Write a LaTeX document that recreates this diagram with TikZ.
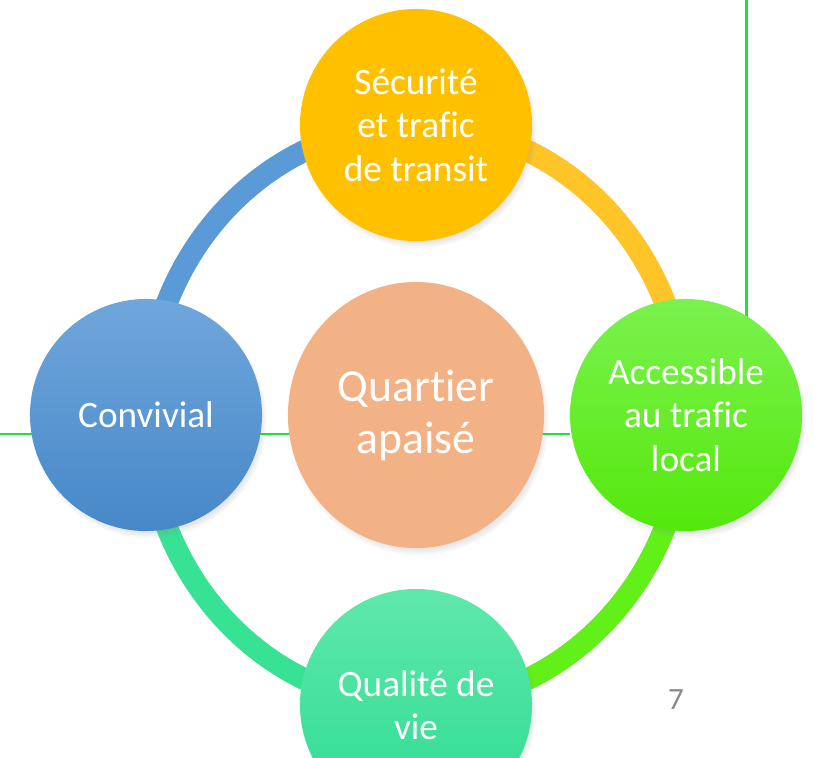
\documentclass[tikz,border=0pt]{standalone}
\usepackage{fontspec}
\setmainfont{Carlito}[Ligatures=CommonOff]
\usepackage{xcolor}
\usetikzlibrary{shadows}
\usetikzlibrary{shapes.geometric}
\usetikzlibrary{backgrounds}
\definecolor{goldc}{RGB}{255,192,0}
\definecolor{bluetop}{RGB}{112,166,220}
\definecolor{bluebot}{RGB}{70,136,200}
\definecolor{greentop}{RGB}{122,242,78}
\definecolor{greenbot}{RGB}{84,232,12}
\definecolor{tealtop}{RGB}{96,232,170}
\definecolor{tealbot}{RGB}{44,220,145}
\definecolor{peach}{RGB}{243,178,134}
\definecolor{guidec}{RGB}{30,226,60}
\definecolor{pagegray}{RGB}{137,137,137}
\definecolor{arcblue}{RGB}{90,155,215}
\definecolor{arcgold}{RGB}{255,196,40}
\definecolor{arcgreen}{RGB}{98,240,25}
\definecolor{arcteal}{RGB}{55,226,148}
\tikzset{
    topic/.style={
        circle, minimum size=5.8cm, inner sep=0pt, align=center,
        text=white, font=\fontsize{26.5}{31}\selectfont,
        circular drop shadow={shadow xshift=0.06cm, shadow yshift=-0.12cm, shadow scale=1.02, opacity=0.5},
    },
    hub/.style={
        ellipse, minimum width=6.4cm, minimum height=6.65cm, inner sep=0pt, align=center,
        fill=peach, text=white, font=\fontsize{32.5}{37}\selectfont,
        circular drop shadow={shadow xshift=0.06cm, shadow yshift=-0.12cm, shadow scale=1.02, opacity=0.5},
    },
    ringarc/.style={line width=15.5pt},
    ringshadow/.style={line width=15.5pt, black, opacity=0.15},
    guide/.style={guidec, line width=1.8pt},
}

\begin{document}
\begin{tikzpicture}[x=0.025cm, y=-0.025cm]
    \useasboundingbox (0,0) rectangle (815,757);

    \node[hub] (quartier) at (416,415) {Quartier\\apaisé};
    \node[topic, fill=goldc] (secu) at (416,125) {Sécurité\\et trafic\\de transit};
    \node[topic, top color=bluetop, bottom color=bluebot] (conv) at (146,415) {Convivial};
    \node[topic, top color=greentop, bottom color=greenbot] (acces) at (686,415) {Accessible\\au trafic\\local};
    \node[topic, top color=tealtop, bottom color=tealbot] (qual) at (416,705) {Qualité de\\vie};

    % ring and slide guides behind the circles
    \begin{scope}[on background layer]
        \draw[guide] (0,434) -- (acces.west |- 0,434);
        \draw[guide] (746.5,0) -- (746.5,320);
        \begin{scope}[shift={(0.06cm,-0.1cm)}]
            \draw[ringshadow] (conv.center) arc[start angle=180, end angle=270, x radius=270, y radius=290];
            \draw[ringshadow] (secu.center) arc[start angle=270, end angle=360, x radius=270, y radius=290];
            \draw[ringshadow] (acces.center) arc[start angle=0, end angle=90, x radius=270, y radius=290];
            \draw[ringshadow] (qual.center) arc[start angle=90, end angle=180, x radius=270, y radius=290];
        \end{scope}
        \draw[ringarc, arcblue] (conv.center) arc[start angle=180, end angle=270, x radius=270, y radius=290];
        \draw[ringarc, arcgold] (secu.center) arc[start angle=270, end angle=360, x radius=270, y radius=290];
        \draw[ringarc, arcgreen] (acces.center) arc[start angle=0, end angle=90, x radius=270, y radius=290];
        \draw[ringarc, arcteal] (qual.center) arc[start angle=90, end angle=180, x radius=270, y radius=290];
    \end{scope}
    \node[text=pagegray, font=\fontsize{22}{26}\selectfont] (page) at (676,700) {7};
\end{tikzpicture}
\end{document}
